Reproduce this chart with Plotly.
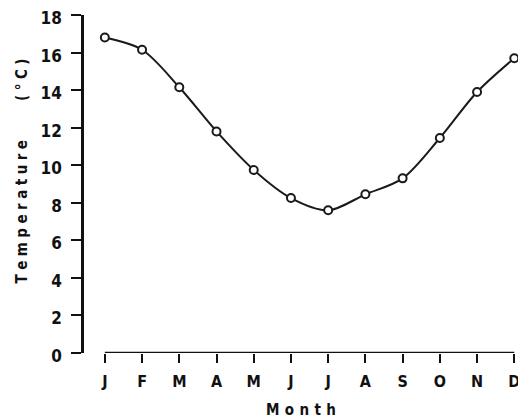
import plotly.graph_objects as go

months = ["J", "F", "M", "A", "M", "J", "J", "A", "S", "O", "N", "D"]
temperature = [16.8, 16.15, 14.15, 11.8, 9.75, 8.25, 7.6, 8.45, 9.3, 11.45, 13.9, 15.7]
y_ticks = [0, 2, 4, 6, 8, 10, 12, 14, 16, 18]

x_pos = list(range(len(months)))
font_family = "DejaVu Sans Condensed, DejaVu Sans, sans-serif"


def spaced(s, sep):
    return sep.join(list(s))


y_title_word = spaced("Temperature", "\u2004")
y_title_unit = spaced("(°C)", "\u2004")
x_title = spaced("Month", "\u2009\u2009")

fig = go.Figure()
fig.add_trace(go.Scatter(
    x=x_pos, y=temperature, mode="lines",
    line=dict(color="#1a1a1a", width=2, shape="spline", smoothing=0.9),
    cliponaxis=False, showlegend=False,
))
fig.add_trace(go.Scatter(
    x=x_pos, y=temperature, mode="markers",
    marker=dict(symbol="circle", size=8, color="white", line=dict(width=2, color="#1a1a1a")),
    cliponaxis=False, showlegend=False,
))

# x axis line (starts at first month, separate from y axis)
fig.add_shape(type="line", xref="x", yref="y", x0=x_pos[0], x1=x_pos[-1], y0=0, y1=0,
              line=dict(color="#111", width=2.5))

title_font = dict(size=15, family=font_family, weight="bold", color="#111")
fig.add_annotation(text=y_title_word, xref="paper", yref="paper", x=0, y=0.416,
                   xshift=-62, textangle=-90, showarrow=False, font=title_font,
                   xanchor="center", yanchor="middle")
fig.add_annotation(text=y_title_unit, xref="paper", yref="paper", x=0, y=0.808,
                   xshift=-62, textangle=-90, showarrow=False, font=title_font,
                   xanchor="center", yanchor="middle")

fig.update_layout(
    width=518, height=411,
    margin=dict(l=76, r=8, t=7, b=66, autoexpand=False),
    paper_bgcolor="white", plot_bgcolor="white",
    font=dict(family=font_family, color="#111", size=15, weight="bold"),
)
fig.update_xaxes(
    range=[-0.56, 11.1], tickvals=x_pos, ticktext=months,
    showgrid=False, zeroline=False, showline=False, automargin=False,
    ticks="outside", ticklen=9, tickwidth=2, tickcolor="#111",
    tickfont=dict(size=16, family=font_family, weight="bold"),
    ticklabelstandoff=5, ticklabeloverflow="allow",
    title=dict(text=x_title, font=title_font, standoff=21),
)
fig.update_yaxes(
    range=[0, 18], tickvals=y_ticks,
    showgrid=False, zeroline=False, showline=True, linewidth=2.5, linecolor="#111",
    automargin=False,
    ticks="outside", ticklen=10, tickwidth=2, tickcolor="#111",
    tickfont=dict(size=17, family=font_family, weight="bold"),
    ticklabelstandoff=6, ticklabelshift=3, ticklabeloverflow="allow",
)

fig.write_html("out.html")
